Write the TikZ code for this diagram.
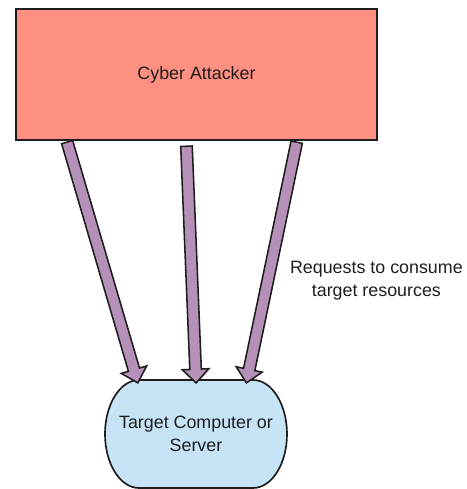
\documentclass[tikz,border=0pt]{standalone}
\usepackage{fontspec}
\setmainfont{Liberation Sans}
\usetikzlibrary{shapes.arrows, calc, backgrounds}
\definecolor{attackerRed}{HTML}{FF8F80}
\definecolor{targetBlue}{HTML}{C6E4F5}
\definecolor{requestPurple}{HTML}{B590B8}
\definecolor{lineDark}{HTML}{1E1E1E}

\tikzset{
    attackerBox/.style={draw=lineDark, line width=1.2pt, fill=attackerRed, minimum width=9.025cm, minimum height=3.275cm},
    targetText/.style={align=center, inner sep=0pt, minimum width=2.85cm, minimum height=2.7cm},
    targetOutline/.style={draw=lineDark, line width=1.2pt, fill=targetBlue},
    fatArrow/.style={single arrow, draw=lineDark, line width=1.1pt, fill=requestPurple, inner sep=0pt, text height=0.25cm, text depth=0pt, single arrow head extend=0.1875cm, single arrow tip angle=88},
}

% thick outlined arrow from #1 to #2
\newcommand{\fatarrow}[2]{%
    \path let \p1=($(#2)-(#1)$), \n1={atan2(\y1,\x1)}, \n2={veclen(\x1,\y1)} in
        node[fatArrow, minimum height=\n2, rotate=\n1] at ($(#1)!0.5!(#2)$) {};}

\begin{document}
\begin{tikzpicture}[font=\fontsize{12.7}{16.4}\selectfont, text=lineDark]
    \useasboundingbox (0, 0) rectangle (11.675, 12.225);
    \node[attackerBox] (attacker) at (4.9125, 10.3625) {Cyber Attacker};
    \node[targetText] (target) at (4.9, 1.375) {Target Computer or\\Server};
    \node[align=center] (requests) at (9.41, 5.2) {Requests to consume\\target resources};

    % flat top and bottom, half-ellipse sides
    \begin{scope}[on background layer]
        \draw[targetOutline] ($(target.center) + (-1.425, 1.35)$) -- ($(target.center) + (1.425, 1.35)$)
            arc[start angle=90, end angle=-90, x radius=0.85cm, y radius=1.35cm]
            -- ($(target.center) + (-1.425, -1.35)$)
            arc[start angle=270, end angle=90, x radius=0.85cm, y radius=1.35cm] -- cycle;
    \end{scope}

    \coordinate (fromA) at ($(attacker.south west)!0.141!(attacker.south east) + (0, 0.04)$);
    \coordinate (fromB) at ($(attacker.south west)!0.472!(attacker.south east) + (0, -0.06)$);
    \coordinate (fromC) at ($(attacker.south west)!0.778!(attacker.south east) + (0, 0.04)$);
    \coordinate (toA) at ($(target.center) + (-1.475, 1.35)$);
    \coordinate (toB) at ($(target.center) + (0, 1.35)$);
    \coordinate (toC) at ($(target.center) + (1.275, 1.35)$);

    \fatarrow{fromA}{toA}
    \fatarrow{fromB}{toB}
    \fatarrow{fromC}{toC}
\end{tikzpicture}
\end{document}
